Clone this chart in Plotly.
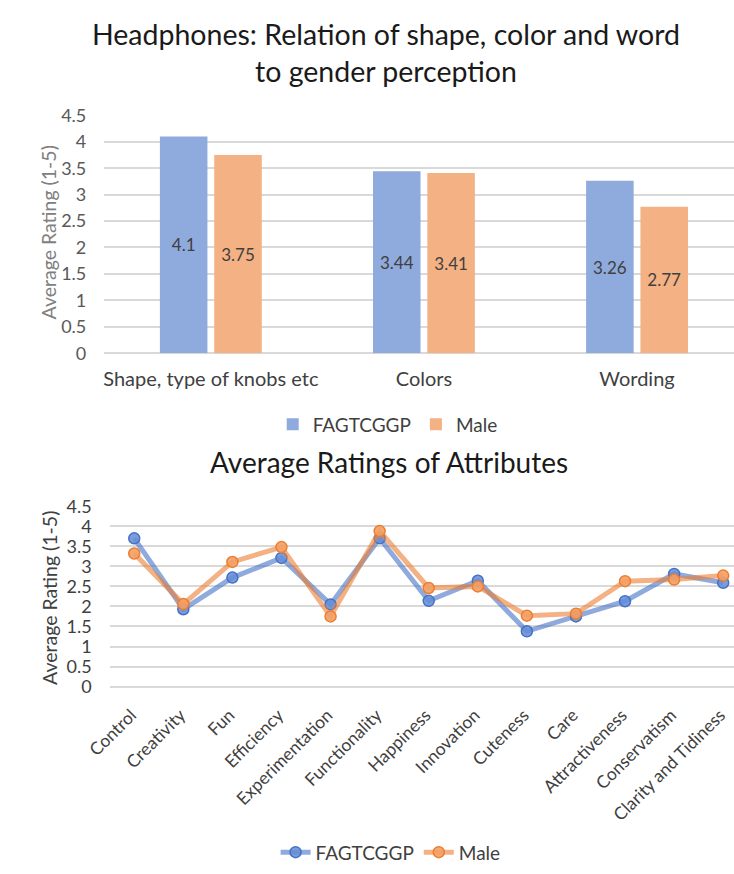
import plotly.graph_objects as go

# Bar chart: relation of shape, colour and wording to gender perception
bar_categories = ["Shape, type of knobs etc", "Colors", "Wording"]
bar_fagtcggp = [4.1, 3.44, 3.26]
bar_male = [3.75, 3.41, 2.77]

# Line chart: average ratings of attributes
attributes = ["Control", "Creativity", "Fun", "Efficiency", "Experimentation",
              "Functionality", "Happiness", "Innovation", "Cuteness", "Care",
              "Attractiveness", "Conservatism", "Clarity and Tidiness"]
line_fagtcggp = [3.70, 1.93, 2.72, 3.21, 2.05, 3.70, 2.14, 2.64, 1.38, 1.75, 2.13, 2.81, 2.59]
line_male = [3.32, 2.06, 3.11, 3.48, 1.75, 3.88, 2.46, 2.50, 1.77, 1.82, 2.63, 2.67, 2.77]

rating_ticks = [0, 0.5, 1, 1.5, 2, 2.5, 3, 3.5, 4, 4.5]

W, H = 734, 874
FONT = "Lato"
BLUE_BAR = "#8FAADC"
ORANGE_BAR = "#F4B183"
GRID = "#D9D9D9"


def py(pixel_y):
    """Convert a pixel row (from top) into paper coordinates."""
    return 1 - pixel_y / H


def px(pixel_x):
    return pixel_x / W


fig = go.Figure()

# ---- top: grouped bars ----
for name, vals, color in [("FAGTCGGP", bar_fagtcggp, BLUE_BAR),
                          ("Male", bar_male, ORANGE_BAR)]:
    fig.add_trace(go.Bar(
        x=bar_categories, y=vals, name=name,
        marker=dict(color=color, line=dict(width=0)),
        texttemplate="%{y}", textposition="inside",
        insidetextanchor="middle", constraintext="none",
        textfont=dict(color="#404040", size=17, family=FONT),
        xaxis="x", yaxis="y", legend="legend",
    ))

# ---- bottom: line chart with markers ----
fig.add_trace(go.Scatter(
    x=attributes, y=line_fagtcggp, name="FAGTCGGP", mode="lines+markers",
    line=dict(color="rgba(68,114,196,0.6)", width=5),
    marker=dict(size=11, color="rgba(100,140,215,0.85)",
                line=dict(color="#4472C4", width=1.5)),
    xaxis="x2", yaxis="y2", legend="legend2",
))
fig.add_trace(go.Scatter(
    x=attributes, y=line_male, name="Male", mode="lines+markers",
    line=dict(color="rgba(237,125,49,0.6)", width=5),
    marker=dict(size=11, color="rgba(243,160,100,0.9)",
                line=dict(color="#ED7D31", width=1.5)),
    xaxis="x2", yaxis="y2", legend="legend2",
))

fig.update_layout(
    width=W, height=H,
    margin=dict(l=0, r=0, t=0, b=0),
    paper_bgcolor="white", plot_bgcolor="white",
    font=dict(family=FONT, color="#404040"),
    barmode="group", bargap=0.49, bargroupgap=0.125,
    xaxis=dict(
        domain=[px(83), 1], anchor="y",
        range=[-0.5, 2.455],
        showgrid=False, zeroline=False, showline=False, ticks="",
        tickfont=dict(size=20, color="#404040", family=FONT),
        ticklabelstandoff=12,
    ),
    yaxis=dict(
        domain=[py(350), py(106)], anchor="x",
        range=[0, 4.5], tickvals=rating_ticks,
        showgrid=True, gridcolor=GRID, gridwidth=1.5,
        zeroline=True, zerolinecolor=GRID, zerolinewidth=1.5,
        showline=False, ticks="",
        tickfont=dict(size=18, color="#595959", family=FONT),
        ticklabelstandoff=17,
    ),
    xaxis2=dict(
        domain=[px(88.6), 1], anchor="y2",
        range=[-0.5, 12.22],
        showgrid=False, zeroline=False, showline=False, ticks="",
        tickangle=-45,
        tickfont=dict(size=17.5, color="#404040", family=FONT),
        ticklabelstandoff=14, ticklabelshift=-3,
    ),
    yaxis2=dict(
        domain=[py(692), py(507)], anchor="x2",
        range=[0, 4.5], tickvals=rating_ticks,
        showgrid=True, gridcolor=GRID, gridwidth=1.5,
        zeroline=True, zerolinecolor=GRID, zerolinewidth=1.5,
        showline=False, ticks="",
        tickfont=dict(size=18, color="#404040", family=FONT),
        ticklabelstandoff=17,
    ),
    legend=dict(
        orientation="h", x=px(376), xanchor="center",
        y=py(423), yanchor="middle",
        font=dict(size=19, color="#404040", family=FONT),
        bgcolor="rgba(0,0,0,0)",
    ),
    legend2=dict(
        orientation="h", x=px(379), xanchor="center",
        y=py(862), yanchor="middle",
        font=dict(size=19, color="#404040", family=FONT),
        bgcolor="rgba(0,0,0,0)",
    ),
    annotations=[
        dict(text="Headphones: Relation of shape, color and word<br>to gender perception",
             x=px(374), y=py(42), xref="paper", yref="paper",
             xanchor="center", yanchor="middle", showarrow=False,
             font=dict(size=28.5, color="#1a1a1a", family=FONT)),
        dict(text="Average Ratings of Attributes",
             x=px(377), y=py(462), xref="paper", yref="paper",
             xanchor="center", yanchor="middle", showarrow=False,
             font=dict(size=28, color="#1a1a1a", family=FONT)),
        dict(text="Average Rating (1-5)", textangle=-90,
             x=px(25), y=py(226), xref="paper", yref="paper",
             xanchor="center", yanchor="middle", showarrow=False,
             font=dict(size=19.5, color="#808080", family=FONT)),
        dict(text="Average Rating (1-5)", textangle=-90,
             x=px(27), y=py(601), xref="paper", yref="paper",
             xanchor="center", yanchor="middle", showarrow=False,
             font=dict(size=19.5, color="#404040", family=FONT)),
    ],
)

fig.write_html("out.html")
